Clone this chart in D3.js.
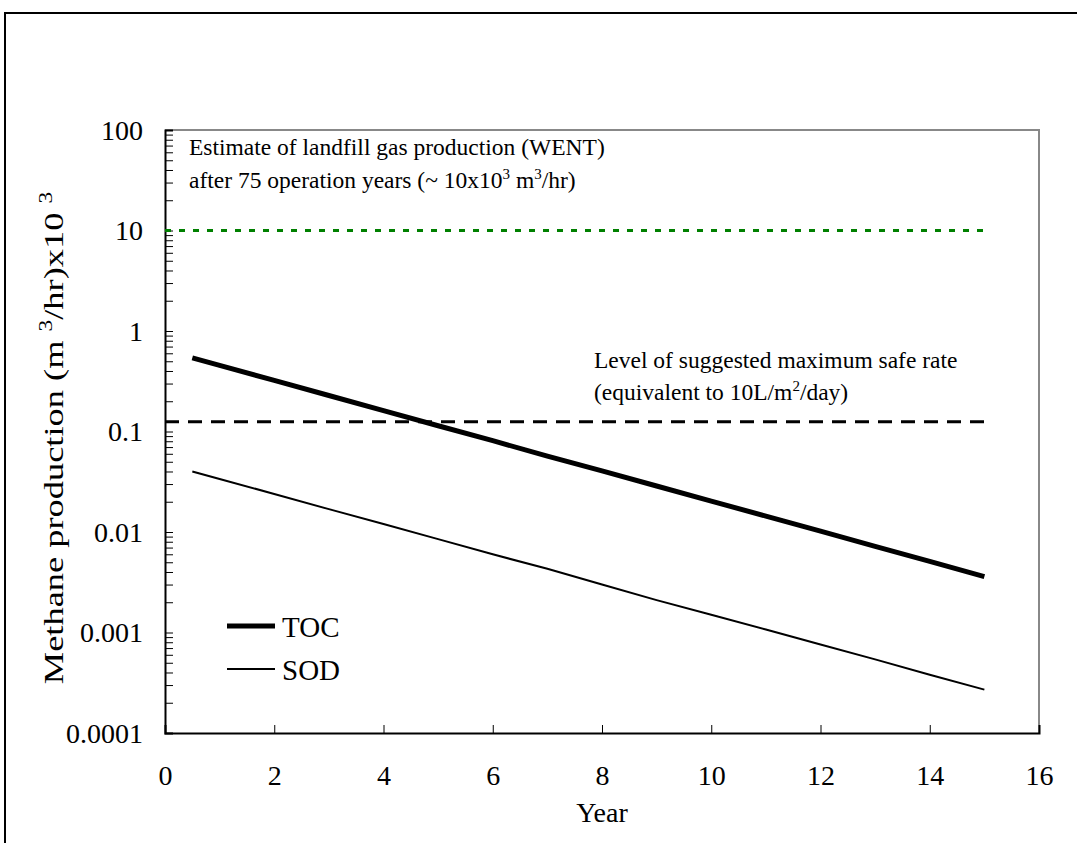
<!DOCTYPE html>
<html>
<head>
<meta charset="utf-8">
<script src="https://cdn.jsdelivr.net/npm/d3@7"></script>
<style>
  body { margin: 0; background: #fff; }
  text { font-family: "Liberation Serif", "Times New Roman", serif; fill: #000; }
</style>
</head>
<body>
<div id="chart"></div>
<script>
// Data
var years = [0.5, 1, 2, 3, 4, 5, 6, 7, 8, 9, 10, 11, 12, 13, 14, 15];
var tocValues = [0.54, 0.455, 0.322, 0.228, 0.161, 0.114, 0.081, 0.057, 0.0405, 0.0287, 0.0203, 0.0144, 0.0102, 0.0072, 0.0051, 0.0036];
var sodValues = [0.04, 0.0337, 0.0239, 0.0169, 0.012, 0.0085, 0.006, 0.0043, 0.003, 0.0021, 0.0015, 0.00107, 0.00076, 0.00054, 0.00038, 0.00027];
var safeRate = 0.125;   // dashed black reference level
var wentLevel = 10;     // dotted green reference level
var refYears = [0, 15];
var xTicks = [0, 2, 4, 6, 8, 10, 12, 14, 16];
var yLabels = ["0.0001", "0.001", "0.01", "0.1", "1", "10", "100"];

var width = 1077, height = 843;
var margin = { left: 165, top: 130, right: 1077 - 1039, bottom: 843 - 733 };

var svg = d3.select("#chart").append("svg")
    .attr("width", width)
    .attr("height", height);

// outer frame
svg.append("rect")
    .attr("x", 5).attr("y", 13)
    .attr("width", 1100).attr("height", 900)
    .attr("fill", "none")
    .attr("stroke", "#000")
    .attr("stroke-width", 2);

var x = d3.scaleLinear().domain([0, 16]).range([margin.left, width - margin.right]);
var y = d3.scaleLog().domain([0.0001, 100]).range([height - margin.bottom, margin.top]);

// gray top / right frame of plot
svg.append("path")
    .attr("d", "M" + x(0) + "," + y(100) + "H" + x(16) + "V" + y(0.0001))
    .attr("fill", "none")
    .attr("stroke", "#888")
    .attr("stroke-width", 2);

// minor + major y ticks
var yTickVals = [];
for (var e = -4; e < 2; e++) {
  for (var m = 1; m < 10; m++) yTickVals.push(m * Math.pow(10, e));
}
yTickVals.push(100);

var yAxis = svg.append("g")
    .attr("transform", "translate(" + x(0) + ",0)")
    .call(d3.axisLeft(y).tickValues(yTickVals).tickSize(-8).tickFormat(""));
yAxis.select(".domain").attr("stroke", "#000").attr("stroke-width", 2);
yAxis.selectAll(".tick line").attr("stroke", "#000").attr("stroke-width", 1);

// y labels
svg.append("g").selectAll("text")
    .data(yLabels)
    .join("text")
    .attr("x", x(0) - 22)
    .attr("y", function(d) { return y(+d); })
    .attr("dy", "0.35em")
    .attr("text-anchor", "end")
    .style("font-size", "28px")
    .text(function(d) { return d; });

var xAxis = svg.append("g")
    .attr("transform", "translate(0," + y(0.0001) + ")")
    .call(d3.axisBottom(x).tickValues(xTicks).tickSize(-8).tickPadding(32).tickFormat(d3.format("d")));
xAxis.select(".domain").attr("stroke", "#000").attr("stroke-width", 2);
xAxis.selectAll(".tick line").attr("stroke", "#000").attr("stroke-width", 1);
xAxis.selectAll(".tick text")
    .style("font-family", "Liberation Serif, serif")
    .style("font-size", "28px")
    .attr("fill", "#000");

// axis titles
svg.append("text")
    .attr("x", x(8))
    .attr("y", 822)
    .attr("text-anchor", "middle")
    .style("font-size", "28px")
    .text("Year");

var yTitle = svg.append("text")
    .attr("transform", "translate(63,438) rotate(-90) scale(1.3,1)")
    .attr("text-anchor", "middle")
    .style("font-size", "28px");
yTitle.append("tspan").text("Methane production (m ");
yTitle.append("tspan").attr("dy", -11).style("font-size", "18px").text("3");
yTitle.append("tspan").attr("dy", 11).text("/hr)x10 ");
yTitle.append("tspan").attr("dy", -11).style("font-size", "18px").text("3");

// reference lines
var refLine = d3.line().x(function(d) { return x(d[0]); }).y(function(d) { return y(d[1]); });

svg.append("path")
    .attr("d", refLine(refYears.map(function(t) { return [t, wentLevel]; })))
    .attr("fill", "none")
    .attr("stroke", "#008000")
    .attr("stroke-width", 3)
    .attr("stroke-dasharray", "6,8");

svg.append("path")
    .attr("d", refLine(refYears.map(function(t) { return [t, safeRate]; })))
    .attr("fill", "none")
    .attr("stroke", "#000")
    .attr("stroke-width", 3)
    .attr("stroke-dasharray", "14,9");

// series
var line = d3.line()
    .x(function(d, i) { return x(years[i]); })
    .y(function(d) { return y(d); });

svg.append("path")
    .datum(tocValues)
    .attr("d", line)
    .attr("fill", "none")
    .attr("stroke", "#000")
    .attr("stroke-width", 5);

svg.append("path")
    .datum(sodValues)
    .attr("d", line)
    .attr("fill", "none")
    .attr("stroke", "#000")
    .attr("stroke-width", 2);

// annotations
var note1 = svg.append("text").attr("x", 189).attr("y", 155).style("font-size", "23.5px");
note1.append("tspan").text("Estimate of landfill gas production (WENT)");
var note2 = svg.append("text").attr("x", 189).attr("y", 188).style("font-size", "23.5px");
note2.append("tspan").text("after 75 operation years (~ 10x10");
note2.append("tspan").attr("dy", -9).style("font-size", "15px").text("3");
note2.append("tspan").attr("dy", 9).text(" m");
note2.append("tspan").attr("dy", -9).style("font-size", "15px").text("3");
note2.append("tspan").attr("dy", 9).text("/hr)");

svg.append("text").attr("x", 594).attr("y", 368).style("font-size", "23.5px")
    .text("Level of suggested maximum safe rate");
var note4 = svg.append("text").attr("x", 594).attr("y", 400).style("font-size", "23.5px");
note4.append("tspan").text("(equivalent to 10L/m");
note4.append("tspan").attr("dy", -9).style("font-size", "15px").text("2");
note4.append("tspan").attr("dy", 9).text("/day)");

// legend
var legendItems = [
  { name: "TOC", w: 5, y: 626 },
  { name: "SOD", w: 2, y: 669 }
];
var legend = svg.append("g");
legend.selectAll("line")
    .data(legendItems)
    .join("line")
    .attr("x1", 227).attr("x2", 275)
    .attr("y1", function(d) { return d.y; })
    .attr("y2", function(d) { return d.y; })
    .attr("stroke", "#000")
    .attr("stroke-width", function(d) { return d.w; });
legend.selectAll("text")
    .data(legendItems)
    .join("text")
    .attr("x", 282)
    .attr("y", function(d) { return d.y + 11; })
    .style("font-size", "29px")
    .text(function(d) { return d.name; });
</script>
</body>
</html>
